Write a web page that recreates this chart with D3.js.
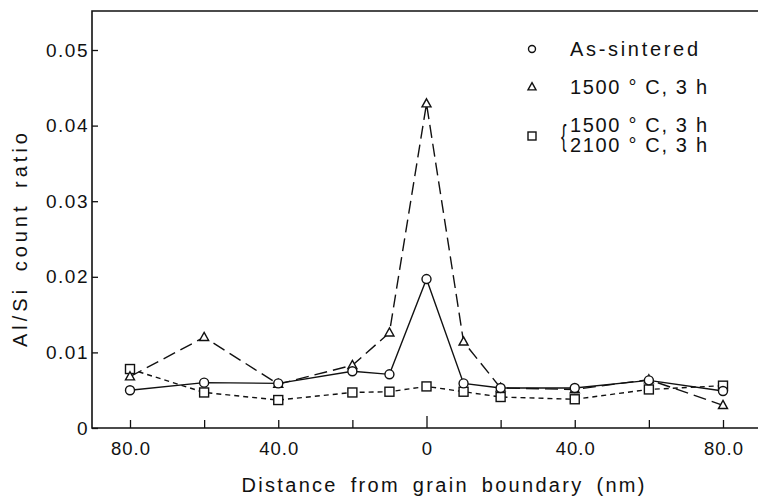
<!DOCTYPE html>
<html>
<head>
<meta charset="utf-8">
<script src="https://cdn.jsdelivr.net/npm/d3@7"></script>
<style>
  body { margin: 0; background: #fff; }
  text { font-family: "Liberation Sans", Arial, sans-serif; fill: #111; }
</style>
</head>
<body>
<script>
// distance from grain boundary (nm), left side negative
var distance = [-80, -60, -40, -20, -10, 0, 10, 20, 40, 60, 80];
var asSintered = [0.0050, 0.0060, 0.0059, 0.0075, 0.0071, 0.0197, 0.0059, 0.0053, 0.0053, 0.0063, 0.0049];
var heat1500 = [0.0068, 0.0120, 0.0058, 0.0083, 0.0126, 0.0429, 0.0114, 0.0053, 0.0051, 0.0064, 0.0030];
var heat2100 = [0.0078, 0.0047, 0.0037, 0.0047, 0.0048, 0.0055, 0.0048, 0.0041, 0.0038, 0.0051, 0.0056];
var xTicks = [-80, -60, -40, -20, 0, 20, 40, 60, 80];
var xLabels = [[-80, "80.0"], [-40, "40.0"], [0, "0"], [40, "40.0"], [80, "80.0"]];
var yTicks = [0, 0.01, 0.02, 0.03, 0.04, 0.05];

var width = 758, height = 497;
var margin = { left: 92, top: 11, right: 0, bottom: 69 };

var svg = d3.select("body").append("svg").attr("width", width).attr("height", height);

var x = d3.scaleLinear().domain([-80, 80]).range([130, 723]);
var y = d3.scaleLinear().domain([0, 0.05]).range([428, 50]);

// frame: left, top and bottom lines (no right border)
var frame = svg.append("g").attr("stroke", "#111").attr("stroke-width", 1.6).attr("fill", "none");
frame.append("path").attr("d", "M" + width + "," + margin.top + "H" + margin.left + "V428H" + width);

// y axis, ticks pointing inward
var yAxis = d3.axisLeft(y).tickValues(yTicks).tickSize(-6).tickPadding(10)
    .tickFormat(function (d) { return d === 0 ? "0" : d3.format(".2f")(d); });
var gy = svg.append("g").attr("transform", "translate(" + margin.left + ",0)").call(yAxis);
gy.select(".domain").remove();
gy.selectAll(".tick line").attr("stroke", "#111").attr("stroke-width", 1.3);
gy.selectAll("text").attr("font-size", 19).attr("letter-spacing", "1.5px").attr("x", -3).attr("fill", "#111");

// x axis, ticks pointing up
var xAxis = d3.axisBottom(x).tickValues(xTicks).tickSize(-8).tickFormat("");
var gx = svg.append("g").attr("transform", "translate(0,428)").call(xAxis);
gx.select(".domain").remove();
gx.selectAll(".tick line").attr("stroke", "#111").attr("stroke-width", 1.3)
    .attr("y2", function (d) { return d === 0 ? -12 : -8; });

svg.append("g").selectAll("text").data(xLabels).enter().append("text")
    .attr("x", function (d) { return x(d[0]) + 1; })
    .attr("y", 455)
    .attr("text-anchor", "middle")
    .attr("font-size", 18.5)
    .attr("letter-spacing", "1px")
    .text(function (d) { return d[1]; });

// axis titles
svg.append("text")
    .attr("x", 443).attr("y", 492)
    .attr("text-anchor", "middle")
    .attr("font-size", 20)
    .attr("word-spacing", "5px")
    .attr("textLength", 403).attr("lengthAdjust", "spacing")
    .text("Distance from grain boundary (nm)");

svg.append("text")
    .attr("transform", "translate(27,240) rotate(-90)")
    .attr("text-anchor", "middle")
    .attr("font-size", 20)
    .attr("word-spacing", "5px")
    .attr("textLength", 214).attr("lengthAdjust", "spacing")
    .text("Al/Si count ratio");

// series
var series = [
    { name: "as", values: asSintered, dash: null, marker: "circle" },
    { name: "t1500", values: heat1500, dash: "13,6", marker: "triangle" },
    { name: "t2100", values: heat2100, dash: "5,4", marker: "square" }
];

var line = d3.line()
    .x(function (d, i) { return x(distance[i]); })
    .y(function (d) { return y(d); });

var plot = svg.append("g");

series.forEach(function (s) {
    plot.append("path")
        .attr("d", line(s.values))
        .attr("fill", "none")
        .attr("stroke", "#111")
        .attr("stroke-width", 1.4)
        .attr("stroke-dasharray", s.dash);
});

function drawMarker(g, type, cx, cy, size) {
    if (type === "circle") {
        g.append("circle").attr("cx", cx).attr("cy", cy).attr("r", size / 2)
            .attr("fill", "#fff").attr("stroke", "#111").attr("stroke-width", 1.4);
    } else if (type === "triangle") {
        var h = size * 0.9;
        g.append("path")
            .attr("d", "M" + cx + "," + (cy - h * 0.6) + "L" + (cx + size / 2) + "," + (cy + h * 0.4) + "L" + (cx - size / 2) + "," + (cy + h * 0.4) + "Z")
            .attr("fill", "#fff").attr("stroke", "#111").attr("stroke-width", 1.4);
    } else {
        g.append("rect").attr("x", cx - size / 2).attr("y", cy - size / 2)
            .attr("width", size).attr("height", size)
            .attr("fill", "#fff").attr("stroke", "#111").attr("stroke-width", 1.4);
    }
}

[series[2], series[1], series[0]].forEach(function (s) {
    var g = plot.append("g");
    s.values.forEach(function (v, i) {
        drawMarker(g, s.marker, x(distance[i]), y(v), 9);
    });
});

// legend
var legend = svg.append("g");
drawMarker(legend, "circle", 532, 49, 7);
legend.append("text").attr("x", 570).attr("y", 56).attr("font-size", 20)
    .attr("textLength", 128).attr("lengthAdjust", "spacing").text("As-sintered");
drawMarker(legend, "triangle", 532, 87, 8);
legend.append("text").attr("x", 570).attr("y", 94).attr("font-size", 20)
    .attr("textLength", 137).attr("lengthAdjust", "spacing").text("1500 \u00b0 C, 3 h");
drawMarker(legend, "square", 532, 136, 8);
legend.append("text").attr("transform", "translate(561,146) scale(0.55,1)")
    .attr("font-size", 30).text("{");
legend.append("text").attr("x", 570).attr("y", 132).attr("font-size", 20)
    .attr("textLength", 137).attr("lengthAdjust", "spacing").text("1500 \u00b0 C, 3 h");
legend.append("text").attr("x", 570).attr("y", 152).attr("font-size", 20)
    .attr("textLength", 137).attr("lengthAdjust", "spacing").text("2100 \u00b0 C, 3 h");
</script>
</body>
</html>
